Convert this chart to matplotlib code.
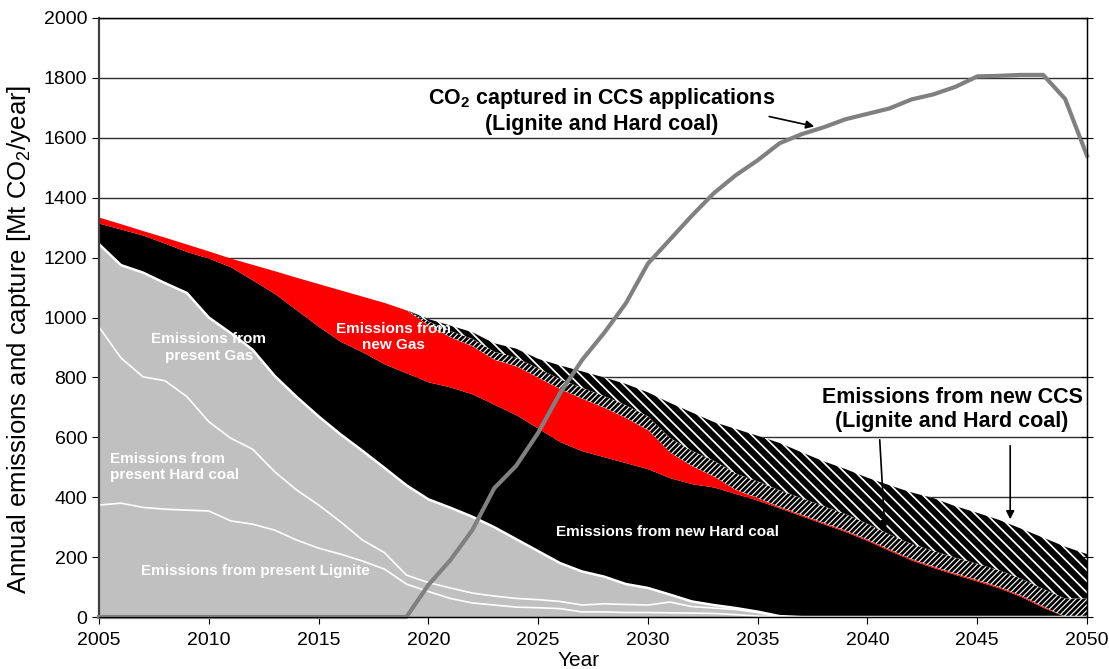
import numpy as np
import matplotlib
matplotlib.use("Agg")
import matplotlib.pyplot as plt

plt.rcParams['font.family'] = ['Liberation Sans', 'DejaVu Sans']
plt.rcParams['mathtext.fontset'] = 'custom'
plt.rcParams['mathtext.rm'] = 'Liberation Sans'
plt.rcParams['mathtext.bf'] = 'Liberation Sans:bold'

#Datos (Mt CO2/year), 2005-2050
years = np.arange(2005, 2051)

present_lignite = [374, 380, 366, 360, 357, 354, 321, 310, 290, 257,
                   230, 210, 187, 160, 110, 85, 62, 47, 40, 33,
                   31, 28, 17, 17, 15, 15, 14, 13, 12, 8,
                   3, 0, 0, 0, 0, 0, 0, 0, 0, 0,
                   0, 0, 0, 0, 0, 0]
present_hardcoal = [594, 485, 436, 429, 379, 298, 276, 250, 195, 167,
                    144, 108, 70, 55, 30, 30, 35, 33, 30, 29,
                    27, 24, 23, 27, 27, 25, 36, 22, 18, 17,
                    12, 0, 0, 0, 0, 0, 0, 0, 0, 0,
                    0, 0, 0, 0, 0, 0]
present_gas = [277, 310, 348, 326, 346, 348, 351, 332, 320, 311,
               296, 292, 298, 283, 300, 278, 268, 255, 230, 198,
               162, 128, 112, 91, 68, 57, 25, 17, 10, 5,
               3, 3, 0, 0, 0, 0, 0, 0, 0, 0,
               0, 0, 0, 0, 0, 0]
new_hardcoal = [70, 120, 125, 133, 138, 198, 221, 233, 275, 290,
                300, 310, 330, 347, 375, 392, 403, 410, 410, 415,
                410, 405, 403, 400, 405, 398, 390, 393, 394, 382,
                372, 361, 338, 311, 285, 255, 222, 190, 165, 142,
                120, 97, 68, 32, 2, 0]
new_gas = [20, 18, 15, 20, 25, 24, 29, 52, 76, 109,
           143, 172, 186, 205, 210, 190, 167, 160, 150, 163,
           170, 177, 175, 165, 150, 130, 85, 60, 36, 13,
           8, 4, 4, 4, 4, 4, 4, 4, 4, 4,
           4, 4, 4, 4, 0, 0]
new_ccs_a = [0, 0, 0, 0, 0, 0, 0, 0, 0, 0,
             0, 0, 0, 0, 0, 12, 20, 24, 26, 28,
             30, 32, 35, 38, 42, 45, 48, 50, 52, 54,
             55, 55, 55, 55, 55, 52, 50, 50, 52, 52,
             54, 55, 56, 58, 60, 62]
new_ccs_b = [0, 0, 0, 0, 0, 0, 0, 0, 0, 0,
             0, 0, 0, 0, 0, 8, 18, 22, 28, 30,
             32, 46, 55, 62, 71, 80, 117, 128, 129, 149,
             152, 158, 153, 150, 150, 154, 164, 172, 176, 172,
             170, 168, 167, 171, 173, 148]
co2_captured = [0, 0, 0, 0, 0, 0, 0, 0, 0, 0,
                0, 0, 0, 0, 0, 107, 190, 290, 430, 505,
                615, 748, 858, 948, 1048, 1180, 1260, 1340, 1415, 1475,
                1525, 1582, 1612, 1635, 1662, 1680, 1698, 1728, 1745, 1770,
                1805, 1807, 1810, 1810, 1730, 1540]

capas = [present_lignite, present_hardcoal, present_gas, new_hardcoal,
         new_gas, new_ccs_a, new_ccs_b]
tope = np.cumsum(np.array(capas, dtype=float), axis=0)
base = np.vstack([np.zeros(len(years)), tope[:-1]])

fig = plt.figure(figsize=(11.09, 6.69), dpi=100)
ax = fig.add_axes([0.0893, 0.0777, 0.8909, 0.8954])

ax.set_xlim(2005, 2050)
ax.set_ylim(0, 2000)
ax.set_yticks(np.arange(0, 2001, 200))
ax.set_xticks(np.arange(2005, 2051, 5))
ax.yaxis.grid(True, color='#303030', linewidth=1.0)
ax.set_axisbelow(True)

# presentes (gris)
ax.fill_between(years, 0, tope[2], color='#c0c0c0', linewidth=0, zorder=1)
# nuevo carbon (negro), nuevo gas (rojo)
ax.fill_between(years, base[3], tope[3], color='black', linewidth=0, zorder=1)
ax.fill_between(years, base[4], tope[4], color='#ff0000', linewidth=0, zorder=1)

# CCS (rayado)
def rayado(y0, y1, patron, ancho):
    with plt.rc_context({'hatch.linewidth': ancho}):
        c = ax.fill_between(years, y0, y1, facecolor='white', edgecolor='black',
                            hatch=patron, linewidth=0, zorder=1)
    try:
        c.set_hatch_linewidth(ancho)
    except AttributeError:
        pass
    return c

rayado(base[5], tope[5], '//////', 2.0)
rayado(base[6], tope[6], '\\\\\\', 4.4)

# lineas blancas entre capas presentes
ax.plot(years, tope[0], color='white', lw=1.2, zorder=2)
ax.plot(years, tope[1], color='white', lw=1.2, zorder=2)
ax.plot(years, tope[2], color='white', lw=1.8, zorder=2)

# CO2 capturado
ax.plot(years, co2_captured, color='#808080', lw=3, zorder=5, clip_on=False)

# textos dentro de las areas
blanco = dict(color='white', fontweight='bold', fontsize=11, zorder=4)
ax.text(2010.0, 900, 'Emissions from\npresent Gas', ha='center', va='center', **blanco)
ax.text(2005.5, 500, 'Emissions from\npresent Hard coal', ha='left', va='center', **blanco)
ax.text(2012.1, 154, 'Emissions from present Lignite', ha='center', va='center', **blanco)
ax.text(2018.4, 935, 'Emissions from\nnew Gas', ha='center', va='center', **blanco)
ax.text(2030.9, 284, 'Emissions from new Hard coal', ha='center', va='center', **blanco)

ax.text(2027.9, 1690, 'CO$_\\mathbf{2}$ captured in CCS applications\n(Lignite and Hard coal)',
        ha='center', va='center', fontsize=15.5, fontweight='bold', zorder=6)
ax.annotate('', xy=(2037.7, 1636), xytext=(2035.4, 1673),
            arrowprops=dict(arrowstyle='-|>', color='black', lw=1.2,
                            mutation_scale=12), zorder=6)

ax.text(2043.85, 694, 'Emissions from new CCS\n(Lignite and Hard coal)',
        ha='center', va='center', fontsize=15.5, fontweight='bold', zorder=6)
ax.annotate('', xy=(2040.8, 284), xytext=(2040.55, 601),
            arrowprops=dict(arrowstyle='-|>', color='black', lw=1.2,
                            mutation_scale=12), zorder=6)
ax.annotate('', xy=(2046.5, 317), xytext=(2046.5, 581),
            arrowprops=dict(arrowstyle='-|>', color='black', lw=1.2,
                            mutation_scale=12), zorder=6)

# ejes
ax.tick_params(axis='both', labelsize=14, direction='out', length=5, color='black')
ax.tick_params(axis='x', pad=6)
for lado in ['top', 'right', 'bottom']:
    ax.spines[lado].set_linewidth(1.0)
    ax.spines[lado].set_zorder(3)
ax.spines['left'].set_linewidth(1.6)
ax.spines['left'].set_color('#404040')

ax2 = ax.twinx()
ax2.set_ylim(0, 2000)
ax2.set_yticks(np.arange(0, 2001, 200))
ax2.tick_params(axis='y', direction='inout', length=9, labelright=False)
ax2.spines['left'].set_visible(False)

ax.set_ylabel('Annual emissions and capture [Mt CO$_2$/year]', fontsize=18.5)
ax.yaxis.set_label_coords(-0.067, 0.464)
ax.set_xlabel('Year', fontsize=15)
ax.xaxis.set_label_coords(0.485, -0.057)

fig.savefig('out.png', dpi=100)
